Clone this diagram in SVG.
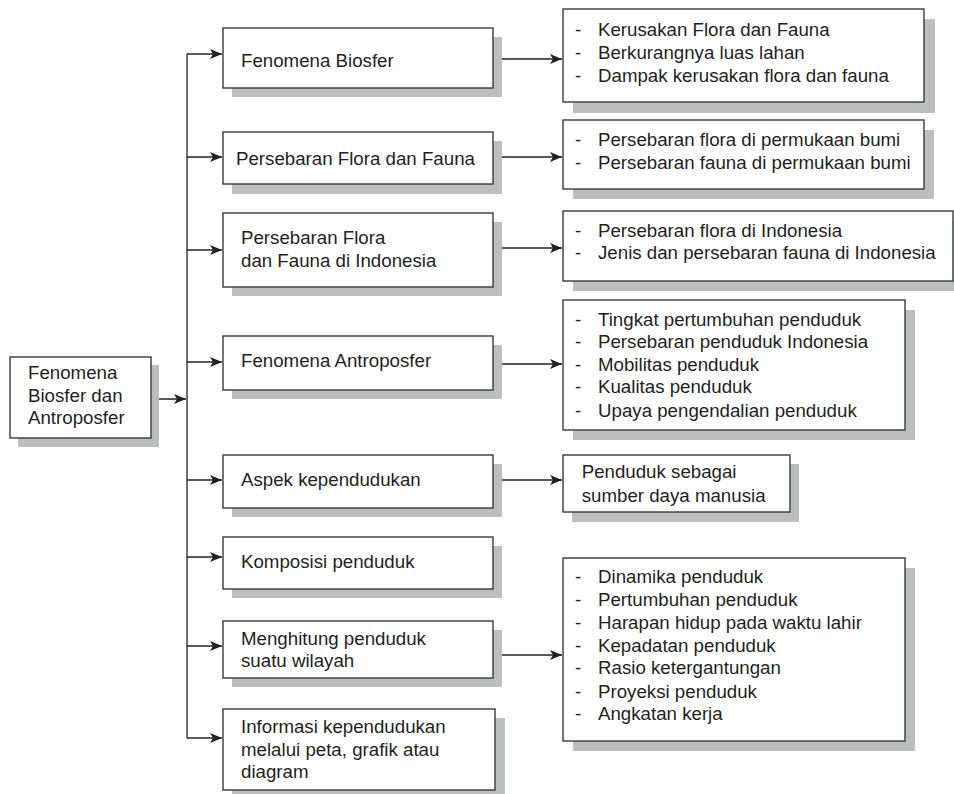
<svg xmlns="http://www.w3.org/2000/svg" width="954" height="794" viewBox="0 0 954 794">
<style>
.box{fill:#fff;stroke:#3a3a3a;stroke-width:1.4}
.sh{fill:#bcbec0}
text{font-family:"Liberation Sans",Arial,sans-serif;font-size:18.7px;fill:#231f20}
.ln{fill:none;stroke:#231f20;stroke-width:1.3}
</style>
<defs>
<marker id="ah" viewBox="0 0 12 10" refX="12" refY="5" markerWidth="12" markerHeight="10" markerUnits="userSpaceOnUse" orient="auto">
<path d="M0,0 L12,5 L0,10 L3,5 Z" fill="#231f20"/>
</marker>
</defs>
<rect width="954" height="794" fill="#fff"/>

<g id="connectors">
<path class="ln" d="M151,399 H186" marker-end="url(#ah)"/>
<path class="ln" d="M187,54 V738"/>
<path class="ln" d="M187,54 H222" marker-end="url(#ah)"/>
<path class="ln" d="M187,157 H222" marker-end="url(#ah)"/>
<path class="ln" d="M187,250 H222" marker-end="url(#ah)"/>
<path class="ln" d="M187,362 H222" marker-end="url(#ah)"/>
<path class="ln" d="M187,480 H222" marker-end="url(#ah)"/>
<path class="ln" d="M187,557 H222" marker-end="url(#ah)"/>
<path class="ln" d="M187,646 H222" marker-end="url(#ah)"/>
<path class="ln" d="M187,738 H222" marker-end="url(#ah)"/>
<path class="ln" d="M493,59 H562" marker-end="url(#ah)"/>
<path class="ln" d="M493,157 H562" marker-end="url(#ah)"/>
<path class="ln" d="M493,248 H562" marker-end="url(#ah)"/>
<path class="ln" d="M493,364 H562" marker-end="url(#ah)"/>
<path class="ln" d="M493,480 H562" marker-end="url(#ah)"/>
<path class="ln" d="M493,655 H562" marker-end="url(#ah)"/>
</g>

<g id="main">
<rect class="sh" x="18" y="365" width="141" height="82"/>
<rect class="box" x="10" y="357" width="141" height="81"/>
<text x="28" y="379">Fenomena</text>
<text x="28" y="401.7">Biosfer dan</text>
<text x="28" y="424.3">Antroposfer</text>
</g>

<g id="m1">
<rect class="sh" x="232" y="37" width="270" height="60"/>
<rect class="box" x="223" y="28" width="270" height="60"/>
<text x="241" y="66.7">Fenomena Biosfer</text>
</g>
<g id="m2">
<rect class="sh" x="232" y="141" width="270" height="53"/>
<rect class="box" x="223" y="132" width="270" height="52"/>
<text x="236" y="165">Persebaran Flora dan Fauna</text>
</g>
<g id="m3">
<rect class="sh" x="232" y="222" width="270" height="74"/>
<rect class="box" x="223" y="213" width="270" height="74"/>
<text x="241" y="244.3">Persebaran Flora</text>
<text x="241" y="266.7">dan Fauna di Indonesia</text>
</g>
<g id="m4">
<rect class="sh" x="232" y="345" width="270" height="54"/>
<rect class="box" x="223" y="336" width="270" height="54"/>
<text x="241" y="366.7">Fenomena Antroposfer</text>
</g>
<g id="m5">
<rect class="sh" x="232" y="464" width="270" height="53"/>
<rect class="box" x="223" y="455" width="270" height="53"/>
<text x="241" y="485.7">Aspek kependudukan</text>
</g>
<g id="m6">
<rect class="sh" x="232" y="546" width="270" height="52"/>
<rect class="box" x="223" y="537" width="270" height="52"/>
<text x="241" y="568.3">Komposisi penduduk</text>
</g>
<g id="m7">
<rect class="sh" x="232" y="630" width="270" height="57"/>
<rect class="box" x="223" y="621" width="270" height="57"/>
<text x="241" y="645">Menghitung penduduk</text>
<text x="241" y="666.7">suatu wilayah</text>
</g>
<g id="m8">
<rect class="sh" x="232" y="718" width="273" height="82"/>
<rect class="box" x="223" y="709" width="272" height="81"/>
<text x="241" y="733.3">Informasi kependudukan</text>
<text x="241" y="756">melalui peta, grafik atau</text>
<text x="241" y="778.3">diagram</text>
</g>

<g id="r1">
<rect class="sh" x="573" y="19" width="362" height="94"/>
<rect class="box" x="563" y="9" width="361" height="93"/>
<text x="575" y="35.7">-</text><text x="598" y="35.7">Kerusakan Flora dan Fauna</text>
<text x="575" y="58.7">-</text><text x="598" y="58.7">Berkurangnya luas lahan</text>
<text x="575" y="81.7">-</text><text x="598" y="81.7">Dampak kerusakan flora dan fauna</text>
</g>
<g id="r2">
<rect class="sh" x="573" y="130" width="361" height="69"/>
<rect class="box" x="563" y="120" width="361" height="69"/>
<text x="575" y="145.7">-</text><text x="598" y="145.7">Persebaran flora di permukaan bumi</text>
<text x="575" y="169">-</text><text x="598" y="169">Persebaran fauna di permukaan bumi</text>
</g>
<g id="r3">
<rect class="sh" x="573" y="221" width="390" height="70"/>
<rect class="box" x="563" y="211" width="390" height="70"/>
<text x="575" y="236.7">-</text><text x="598" y="236.7">Persebaran flora di Indonesia</text>
<text x="575" y="259">-</text><text x="598" y="259">Jenis dan persebaran fauna di Indonesia</text>
</g>
<g id="r4">
<rect class="sh" x="573" y="310" width="342" height="130"/>
<rect class="box" x="563" y="300" width="342" height="130"/>
<text x="575" y="325.7">-</text><text x="598" y="325.7">Tingkat pertumbuhan penduduk</text>
<text x="575" y="348.3">-</text><text x="598" y="348.3">Persebaran penduduk Indonesia</text>
<text x="575" y="370.7">-</text><text x="598" y="370.7">Mobilitas penduduk</text>
<text x="575" y="393.3">-</text><text x="598" y="393.3">Kualitas penduduk</text>
<text x="575" y="416.7">-</text><text x="598" y="416.7">Upaya pengendalian penduduk</text>
</g>
<g id="r5">
<rect class="sh" x="572" y="464" width="227" height="58"/>
<rect class="box" x="563" y="455" width="227" height="57"/>
<text x="581.7" y="478.3">Penduduk sebagai</text>
<text x="581.7" y="501.7">sumber daya manusia</text>
</g>
<g id="r6">
<rect class="sh" x="573" y="568" width="342" height="183"/>
<rect class="box" x="563" y="558" width="342" height="183"/>
<text x="575" y="583.3">-</text><text x="598" y="583.3">Dinamika penduduk</text>
<text x="575" y="606">-</text><text x="598" y="606">Pertumbuhan penduduk</text>
<text x="575" y="629.3">-</text><text x="598" y="629.3">Harapan hidup pada waktu lahir</text>
<text x="575" y="651.7">-</text><text x="598" y="651.7">Kepadatan penduduk</text>
<text x="575" y="674.3">-</text><text x="598" y="674.3">Rasio ketergantungan</text>
<text x="575" y="697.7">-</text><text x="598" y="697.7">Proyeksi penduduk</text>
<text x="575" y="720">-</text><text x="598" y="720">Angkatan kerja</text>
</g>
</svg>
